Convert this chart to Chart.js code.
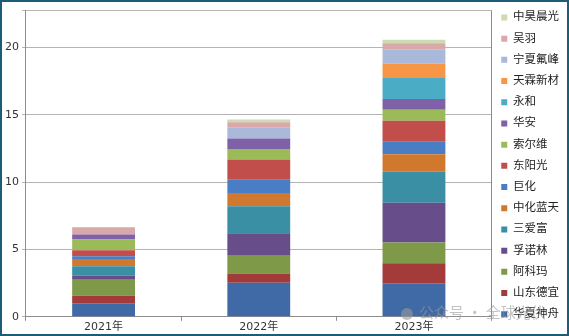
<!DOCTYPE html>
<html lang="zh">
<head>
<meta charset="utf-8">
<title>chart</title>
<script src="https://cdn.jsdelivr.net/npm/chart.js@4.4.0/dist/chart.umd.min.js"></script>
<style>
  body { margin: 0; background: #fff; }
  #wrap { width: 569px; height: 336px; box-sizing: border-box; border: 2px solid #1f5a78; position: relative; }
</style>
</head>
<body>
<div id="wrap"><canvas id="monGraphique" width="565" height="332"></canvas></div>
<script>
    // annees
    var annees = ['2021年', '2022年', '2023年'];
    // entreprises, du bas vers le haut de la pile
    var huaxiaShenzhou = [1.0, 2.52, 2.49];
    var shandongDeyi = [0.57, 0.7, 1.49];
    var akema = [1.19, 1.31, 1.53];
    var funuolin = [0.3, 1.67, 2.96];
    var sanaifu = [0.69, 2.02, 2.3];
    var zhonghuaLantian = [0.54, 0.98, 1.31];
    var juhua = [0.2, 0.97, 0.93];
    var dongyangguang = [0.45, 1.52, 1.56];
    var suoerwei = [0.8, 0.77, 0.8];
    var huaan = [0.37, 0.79, 0.8];
    var yonghe = [0, 0, 1.56];
    var tianlin = [0, 0, 1.08];
    var ningxiaFufeng = [0, 0.8, 1.06];
    var wuyu = [0.54, 0.4, 0.45];
    var zhonghaoChenguang = [0, 0.2, 0.26];
    var yTicks = [0, 5, 10, 15, 20];

    var series = [
        ['华夏神舟', huaxiaShenzhou, '#3f6aa5'],
        ['山东德宜', shandongDeyi, '#a23b39'],
        ['阿科玛', akema, '#7e9a48'],
        ['孚诺林', funuolin, '#674e8a'],
        ['三爱富', sanaifu, '#3a8fa5'],
        ['中化蓝天', zhonghuaLantian, '#d1782f'],
        ['巨化', juhua, '#4a7ec4'],
        ['东阳光', dongyangguang, '#c24e4c'],
        ['索尔维', suoerwei, '#9bbb59'],
        ['华安', huaan, '#7e61a6'],
        ['永和', yonghe, '#4bacc6'],
        ['天霖新材', tianlin, '#f79646'],
        ['宁夏氟峰', ningxiaFufeng, '#aab9d9'],
        ['吴羽', wuyu, '#d9a8a8'],
        ['中昊晨光', zhonghaoChenguang, '#cddab2']
    ];

    var datasets = series.map(function (s) {
        return {
            label: s[0],
            data: s[1],
            backgroundColor: s[2],
            borderWidth: 0,
            barPercentage: 0.405,
            categoryPercentage: 1
        };
    });

    var police = '"DejaVu Sans", "Noto Sans CJK SC", sans-serif';

    // cadre du graphique + filigrane
    var cadre = {
        id: 'cadre',
        afterDraw: function (chart) {
            var c = chart.ctx, a = chart.chartArea;
            c.save();
            c.strokeStyle = '#8c8c8c';
            c.lineWidth = 1;
            c.beginPath();
            c.moveTo(Math.round(a.right) - 0.5, a.top);
            c.lineTo(Math.round(a.right) - 0.5, a.bottom);
            c.stroke();
            c.globalAlpha = 0.6;
            c.fillStyle = '#9a9a9a';
            c.font = '15px "Noto Sans CJK SC"';
            c.textBaseline = 'middle';
            c.fillText('公众号 · 全球光伏', 417, 310);
            c.beginPath();
            c.arc(405, 312, 6, 0, Math.PI * 2);
            c.fill();
            c.restore();
        }
    };

    var ctx = document.getElementById('monGraphique').getContext('2d');
    var chart = new Chart(ctx, {
        type: 'bar',
        data: { labels: annees, datasets: datasets },
        options: {
            responsive: false,
            animation: false,
            layout: { padding: { left: 0, top: 0, right: -2, bottom: 0 } },
            plugins: {
                tooltip: { enabled: false },
                legend: {
                    position: 'right',
                    align: 'start',
                    reverse: true,
                    labels: {
                        boxWidth: 6,
                        boxHeight: 6,
                        padding: 9.7,
                        color: '#222',
                        font: { size: 11.5, family: police }
                    }
                }
            },
            scales: {
                x: {
                    stacked: true,
                    grid: { display: true, drawOnChartArea: false, drawTicks: true, tickLength: 4, offset: true, color: '#8c8c8c' },
                    border: { color: '#8c8c8c' },
                    ticks: { color: '#333', font: { size: 11, family: police }, padding: 0 }
                },
                y: {
                    stacked: true,
                    min: 0,
                    max: 22.75,
                    grid: { color: '#b4b4b4', tickLength: 4 },
                    border: { color: '#8c8c8c' },
                    afterBuildTicks: function (axis) {
                        axis.ticks = yTicks.map(function (v) { return { value: v }; }).concat([{ value: 22.75 }]);
                    },
                    ticks: {
                        color: '#333',
                        padding: 3,
                        font: { size: 11, family: police, lineHeight: 1.0 },
                        callback: function (v) { return yTicks.indexOf(v) >= 0 ? v : ' '; }
                    }
                }
            }
        },
        plugins: [cadre]
    });
</script>
</body>
</html>
